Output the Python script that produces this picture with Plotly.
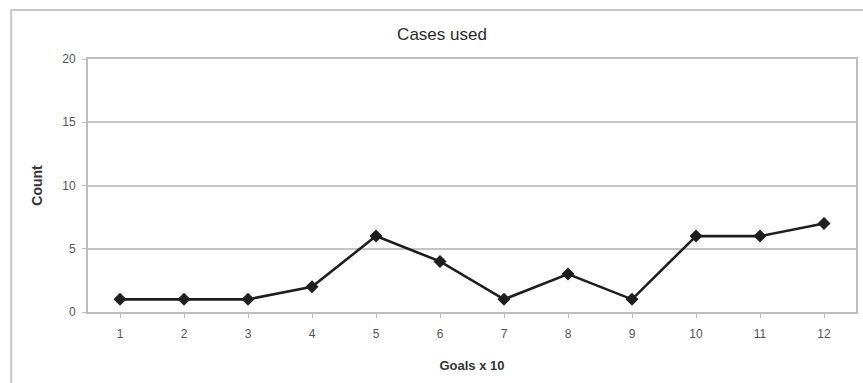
import plotly.graph_objects as go

# Goals (x10) and number of cases used for each
goals = [1, 2, 3, 4, 5, 6, 7, 8, 9, 10, 11, 12]
counts = [1, 1, 1, 2, 6, 4, 1, 3, 1, 6, 6, 7]
y_ticks = [0, 5, 10, 15, 20]

W, H = 863, 383
L, R, T, B = 88, 5, 59, 71
pw, ph = W - L - R, H - T - B

fig = go.Figure()
fig.add_trace(go.Scatter(
    x=[str(g) for g in goals],
    y=counts,
    mode="lines+markers",
    line=dict(color="#1e1e1e", width=2.6),
    marker=dict(symbol="diamond", size=10, color="#1e1e1e"),
    showlegend=False,
))

# outer chart frame
fig.add_shape(type="rect", xref="paper", yref="paper",
              x0=(11 - L) / pw, x1=(W + 10 - L) / pw,
              y0=(H - B - (H + 10)) / ph, y1=(H - B - 10) / ph,
              line=dict(color="#c8c8c8", width=2), layer="below")

fig.update_layout(
    width=W, height=H,
    margin=dict(l=L, r=R, t=T, b=B),
    paper_bgcolor="white",
    plot_bgcolor="white",
    font=dict(family="Liberation Sans, Arial, sans-serif", color="#333333", size=12),
    title=dict(text="Cases used", x=442 / W, xref="container", xanchor="center",
               y=1 - 34 / H, yref="container", yanchor="middle",
               font=dict(size=17, color="#2a2a2a")),
    xaxis=dict(
        type="category",
        range=[-0.5, len(goals) - 0.5],
        showgrid=False,
        showline=True, linecolor="#bdbdbd", linewidth=2, mirror=True,
        ticks="outside", ticklen=4, tickcolor="#bdbdbd",
        ticklabelstandoff=6,
        tickfont=dict(size=12, color="#555555"),
        title=dict(text="<b>Goals x 10</b>", standoff=20,
                   font=dict(size=13, color="#333333")),
    ),
    yaxis=dict(
        range=[0, 20],
        tickvals=y_ticks,
        showgrid=True, gridcolor="#c4c4c4", gridwidth=2,
        showline=True, linecolor="#bdbdbd", linewidth=2, mirror=True,
        zeroline=False,
        ticks="outside", ticklen=4, tickcolor="#bdbdbd",
        ticklabelstandoff=4,
        tickfont=dict(size=12, color="#555555"),
        title=dict(text="<b>Count</b>", standoff=16,
                   font=dict(size=14, color="#333333")),
    ),
)

fig.write_html("out.html")
